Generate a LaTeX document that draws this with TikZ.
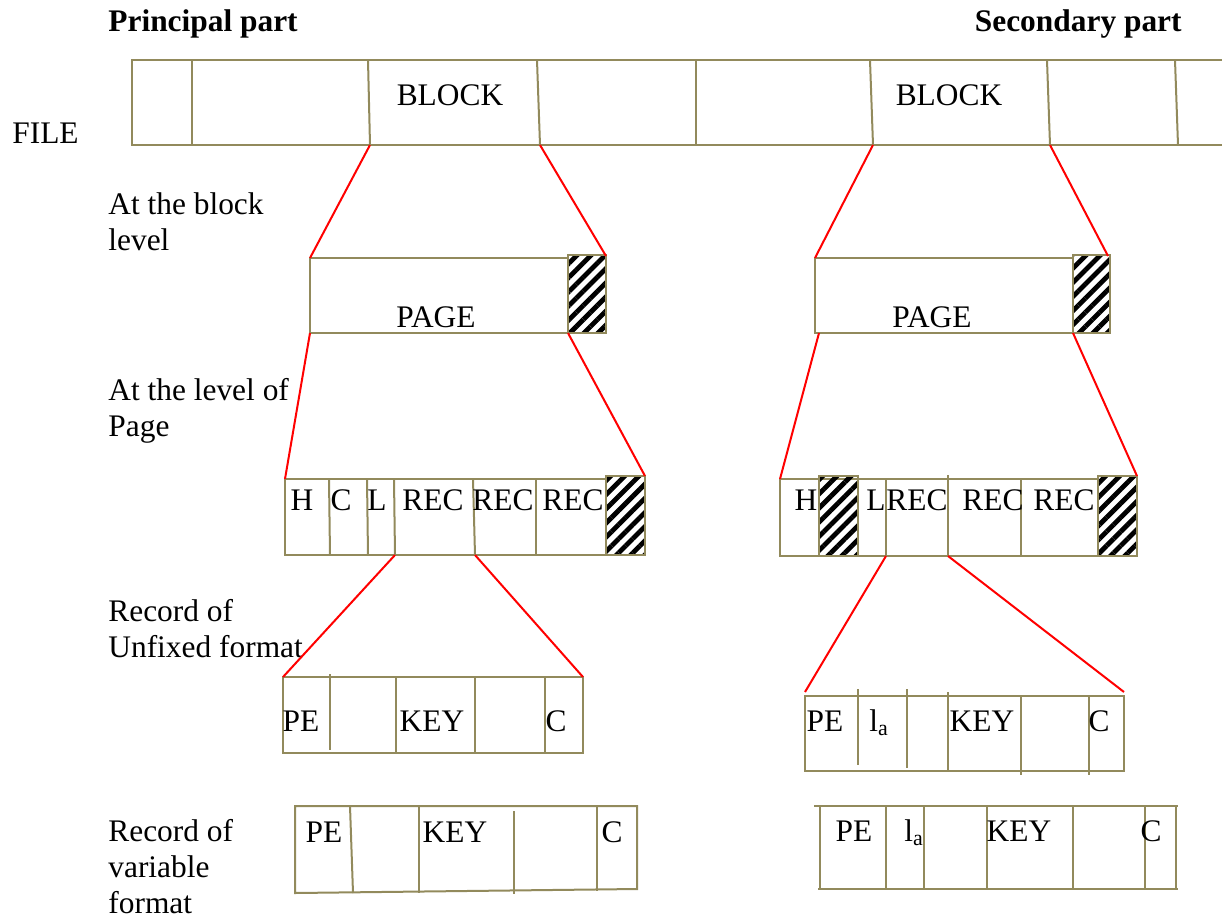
\documentclass[tikz,border=0pt]{standalone}
\usepackage{fontspec}
\setmainfont{Liberation Serif}
\usetikzlibrary{patterns.meta}
\definecolor{boxline}{RGB}{146,138,92}

\begin{document}
\begin{tikzpicture}[
    x=0.5pt, y=-0.5pt,
    every node/.style={inner sep=0pt, font=\fontsize{15.7}{18}\selectfont},
    txt/.style={anchor=base},
    lbl/.style={anchor=base west, align=left},
    head/.style={font=\bfseries\fontsize{15.7}{18}\selectfont},
    cell/.style={draw=boxline, line width=1pt},
    hatch/.style={cell, pattern={Lines[angle=45, distance=5pt, line width=2.4pt]}, pattern color=black},
    zoomline/.style={draw=red, line width=1pt}
]
    \useasboundingbox (0,0) rectangle (1222,917);

    % headings and level labels (placed by their last line)
    \node[head, anchor=base west] (princ) at (108,31) {Principal part};
    \node[head, anchor=base east] (second) at (1182,31) {Secondary part};
    \node[lbl] (lblFile) at (12,143) {FILE};
    \node[lbl] (lblBlock) at (108,250) {At the block\\level};
    \node[lbl] (lblPage) at (108,436) {At the level of\\Page};
    \node[lbl] (lblFixed) at (108,657) {Record of\\Unfixed format};
    \node[lbl] (lblVar) at (108,913) {Record of\\variable\\format};

    % file
    \draw[cell] (1222,60) -- (132,60) -- (132,145) -- (1222,145);
    \foreach \xt/\xb in {192/192, 368/370, 537/540, 696/696, 870/873, 1047/1050, 1175/1178}
        \draw[cell] (\xt,60) -- (\xb,145);
    \node[txt] (blockA) at (450,105) {BLOCK};
    \node[txt] (blockB) at (949,105) {BLOCK};
    \coordinate (blkA-sw) at (370,145);
    \coordinate (blkA-se) at (540,145);
    \coordinate (blkB-sw) at (873,145);
    \coordinate (blkB-se) at (1050,145);

    % pages
    \draw[cell] (310,258) rectangle (568,333);
    \draw[hatch] (568,255) rectangle (606,333);
    \draw[cell] (815,258) rectangle (1073,333);
    \draw[hatch] (1073,255) rectangle (1110,333);
    \node[txt] (pageA) at (436,327) {PAGE};
    \node[txt] (pageB) at (932,327) {PAGE};
    \coordinate (pgA-nw) at (310,258);
    \coordinate (pgA-ne) at (606,256);
    \coordinate (pgA-sw) at (310,333);
    \coordinate (pgA-se) at (568,333);
    \coordinate (pgB-nw) at (815,258);
    \coordinate (pgB-ne) at (1108,256);
    \coordinate (pgB-sw) at (819,333);
    \coordinate (pgB-se) at (1073,333);

    % records in the page
    \draw[cell] (285,479) rectangle (606,555);
    \draw[hatch] (606,476) rectangle (645,555);
    \foreach \xt/\xb in {329/330, 367/368, 394/395, 473/475, 536/536}
        \draw[cell] (\xt,479) -- (\xb,555);
    \foreach \x/\t [count=\i] in {302/H, 341/C, 377/L, 433/REC, 503/REC, 573/REC}
        \node[txt] (recA\i) at (\x,510) {\t};

    \draw[cell] (780,479) rectangle (1098,556);
    \draw[hatch] (819,476) rectangle (858,556);
    \draw[hatch] (1098,476) rectangle (1137,556);
    \draw[cell] (886,479) -- (886,556);
    \draw[cell] (948,475) -- (948,556);
    \draw[cell] (1021,479) -- (1021,556);
    \foreach \x/\t [count=\i] in {806/H, 876/L, 917/REC, 993/REC, 1064/REC}
        \node[txt] (recB\i) at (\x,510) {\t};

    \coordinate (rcA-nw) at (285,479);
    \coordinate (rcA-ne) at (645,476);
    \coordinate (rcA-k1) at (395,555);
    \coordinate (rcA-k2) at (475,555);
    \coordinate (rcB-nw) at (780,479);
    \coordinate (rcB-ne) at (1137,476);
    \coordinate (rcB-k1) at (886,556);
    \coordinate (rcB-k2) at (948,556);

    % unfixed format
    \draw[cell] (283,677) rectangle (583,753);
    \draw[cell] (330,674) -- (330,750);
    \foreach \x in {396, 475, 545}
        \draw[cell] (\x,677) -- (\x,753);
    \node[txt] (fixA1) at (301,731) {PE};
    \node[txt] (fixA2) at (432,731) {KEY};
    \node[txt] (fixA3) at (556,731) {C};

    \draw[cell] (805,696) rectangle (1124,771);
    \draw[cell] (858,689) -- (858,765);
    \draw[cell] (907,689) -- (907,768);
    \draw[cell] (948,692) -- (948,771);
    \draw[cell] (1021,696) -- (1021,775);
    \draw[cell] (1089,696) -- (1089,775);
    \node[txt] (fixB1) at (825,731) {PE};
    \node[anchor=base west] (fixB2) at (869,731) {l\textsubscript{a}};
    \node[txt] (fixB3) at (982,731) {KEY};
    \node[txt] (fixB4) at (1099,731) {C};

    \coordinate (fxA-nw) at (283,677);
    \coordinate (fxA-ne) at (583,677);
    \coordinate (fxB-nw) at (805,692);
    \coordinate (fxB-ne) at (1124,692);

    % variable format
    \draw[cell] (295,806) -- (637,806) -- (637,889) -- (295,893) -- cycle;
    \draw[cell] (350,806) -- (353,893);
    \draw[cell] (419,806) -- (419,893);
    \draw[cell] (514,811) -- (514,894);
    \draw[cell] (597,806) -- (597,891);
    \node[txt] (varA1) at (324,842) {PE};
    \node[txt] (varA2) at (455,842) {KEY};
    \node[txt] (varA3) at (612,842) {C};

    \draw[cell] (814,806) -- (1178,806);
    \draw[cell] (818,889) -- (1178,889);
    \foreach \x in {820, 886, 924, 987, 1073, 1145, 1176}
        \draw[cell] (\x,806) -- (\x,889);
    \node[txt] (varB1) at (854,841) {PE};
    \node[anchor=base west] (varB2) at (904,841) {l\textsubscript{a}};
    \node[txt] (varB3) at (1019,841) {KEY};
    \node[txt] (varB4) at (1151,841) {C};

    % zoom lines
    \draw[zoomline] (blkA-sw) -- (pgA-nw);
    \draw[zoomline] (blkA-se) -- (pgA-ne);
    \draw[zoomline] (blkB-sw) -- (pgB-nw);
    \draw[zoomline] (blkB-se) -- (pgB-ne);
    \draw[zoomline] (pgA-sw) -- (rcA-nw);
    \draw[zoomline] (pgA-se) -- (rcA-ne);
    \draw[zoomline] (pgB-sw) -- (rcB-nw);
    \draw[zoomline] (pgB-se) -- (rcB-ne);
    \draw[zoomline] (rcA-k1) -- (fxA-nw);
    \draw[zoomline] (rcA-k2) -- (fxA-ne);
    \draw[zoomline] (rcB-k1) -- (fxB-nw);
    \draw[zoomline] (rcB-k2) -- (fxB-ne);

\end{tikzpicture}
\end{document}
